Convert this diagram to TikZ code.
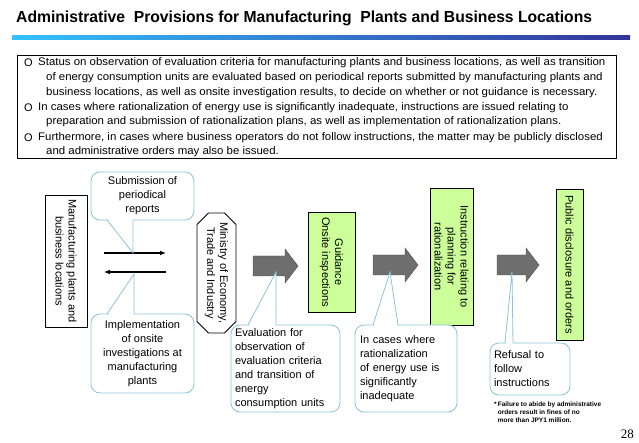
\documentclass[tikz,border=0pt]{standalone}
\usepackage{fontspec}
\setmainfont{Liberation Sans}
\usetikzlibrary{shapes.misc,arrows.meta}
\definecolor{callb}{RGB}{140,195,215}
\definecolor{lgreen}{RGB}{204,255,153}
\definecolor{garrow}{RGB}{110,110,110}
\newcommand{\tline}[1]{\scalebox{1.04}[1]{#1}}
\tikzset{
  x=1pt,y=-1pt,
  sidebox/.style={draw,thick,fill=white,minimum width=42pt,minimum height=132pt,inner sep=0pt},
  rot/.style={rotate=-90,align=center,font=\fontsize{11}{13}\selectfont},
  greenbox/.style={draw,thick,fill=lgreen,inner sep=0pt},
  callout/.style={draw=callb,thick,fill=white,rounded corners=9pt,align=center,font=\fontsize{11}{14}\selectfont,inner sep=0pt},
  calloutl/.style={callout,align=left},
  ptr/.style={draw=callb,thick},
  fatarrow/.style={draw=black!70,fill=garrow},
  txt/.style={anchor=west,font=\fontsize{11}{13}\selectfont,inner sep=0pt},
  thinarr/.style={very thick,-{Latex[length=6pt,width=5pt]}}
}
\begin{document}
\begin{tikzpicture}
\useasboundingbox (0,0) rectangle (639,443);
% title
\node[anchor=west,inner sep=0pt] (title) at (16,18) {\fontsize{16}{18}\selectfont\bfseries\scalebox{0.98}[1]{Administrative\ \ Provisions\ for\ Manufacturing\ \ Plants\ and\ Business\ Locations}};
\shade[left color=cyan!70!blue!80,right color=blue!50!black!80] (12,36) rectangle (630,40);
% text box
\draw[thick] (17,55) rectangle (616,158);
\node[txt] (b1) at (24,63) {O};
\node[txt] (l1) at (38,63) {\tline{Status on observation of evaluation criteria for manufacturing plants and business locations, as well as transition}};
\node[txt] (l2) at (46,78) {\tline{of energy consumption units are evaluated based on periodical reports submitted by manufacturing plants and}};
\node[txt] (l3) at (46,93) {\tline{business locations, as well as onsite investigation results, to decide on whether or not guidance is necessary.}};
\node[txt] (b2) at (24,108) {O};
\node[txt] (l4) at (38,108) {\tline{In cases where rationalization of energy use is significantly inadequate, instructions are issued relating to}};
\node[txt] (l5) at (46,122) {\tline{preparation and submission of rationalization plans, as well as implementation of rationalization plans.}};
\node[txt] (b3) at (24,138) {O};
\node[txt] (l6) at (38,138) {\tline{Furthermore, in cases where business operators do not follow instructions, the matter may be publicly disclosed}};
\node[txt] (l7) at (46,152) {\tline{and administrative orders may also be issued.}};
% left box
\node[sidebox] (mfg) at (66,261) {};
\node[rot] (mfgt) at (mfg.center) {Manufacturing plants and\\business locations};
% arrows between
\coordinate (ar1s) at (104,253); \coordinate (ar1e) at (166,253);
\coordinate (ar2s) at (166,272); \coordinate (ar2e) at (104,272);
\draw[thinarr] (ar1s) -- (ar1e);
\draw[thinarr] (ar2s) -- (ar2e);
% ministry
\node[draw,thick,chamfered rectangle,chamfered rectangle xsep=8pt,minimum width=120pt,minimum height=39pt,rotate=-90,inner sep=0pt,align=center,font=\fontsize{11}{13}\selectfont] (meti) at (216.5,273) {Ministry of Economy,\\Trade and Industry};
% green boxes
\node[greenbox,minimum width=47pt,minimum height=100pt] (guid) at (331.5,262) {};
\node[rot] at (guid.center) {Guidance\\Onsite inspections};
\node[greenbox,minimum width=43pt,minimum height=137pt] (instr) at (451.5,256.5) {};
\node[rot] at (instr.center) {Instruction relating to\\planning for\\rationalization};
\node[greenbox,minimum width=27pt,minimum height=151pt] (pub) at (569.5,264.5) {};
\node[rot] at (pub.center) {Public disclosure and orders};
% fat arrows
\draw[fatarrow] (253,256) -- (285,256) -- (285,249) -- (298,266) -- (285,283) -- (285,276) -- (253,276) -- cycle;
\draw[fatarrow] (373,255) -- (405,255) -- (405,248) -- (418,265) -- (405,282) -- (405,275) -- (373,275) -- cycle;
\draw[fatarrow] (497,255) -- (526,255) -- (526,248) -- (539,265) -- (526,282) -- (526,275) -- (497,275) -- cycle;
% callouts
\node[callout,minimum width=103pt,minimum height=48pt] (c1) at (142.5,196) {Submission of\\periodical\\reports};
\fill[white] (108,218.5) -- (133,253) -- (133,218.5) -- cycle;
\draw[ptr] (107,220) -- (133,253) -- (133,220);
\node[callout,minimum width=103pt,minimum height=79pt] (c2) at (142.5,353.5) {Implementation\\of onsite\\investigations at\\manufacturing\\plants};
\fill[white] (108,315.5) -- (134,274) -- (134,315.5) -- cycle;
\draw[ptr] (107,314) -- (134,274) -- (134,314);
\node[calloutl,minimum width=109pt,minimum height=87pt,text width=101pt] (c3) at (285.5,368.5) {Evaluation for\\observation of\\evaluation criteria\\and transition of\\energy\\consumption units};
\fill[white] (249,326.5) -- (276,272) -- (276,326.5) -- cycle;
\draw[ptr] (248,325) -- (276,272) -- (276,325);
\node[calloutl,minimum width=102pt,minimum height=87pt,text width=92pt] (c4) at (406,368.5) {In cases where\\rationalization\\of energy use is\\significantly\\inadequate};
\fill[white] (374,326.5) -- (390,272) -- (398,326.5) -- cycle;
\draw[ptr] (373,325) -- (390,272) -- (398,325);
\node[calloutl,minimum width=80pt,minimum height=52pt,text width=72pt] (c5) at (530,369) {Refusal to\\follow\\instructions};
\fill[white] (505.5,344.5) -- (512,272) -- (513,344.5) -- cycle;
\draw[ptr] (505,343) -- (512,272) -- (513,343);
% footnote
\node[anchor=north west,inner sep=0pt,align=left,font=\fontsize{6.5}{8}\selectfont\bfseries] (fn) at (494,402) {*\,Failure to abide by administrative\\\ \ orders result in fines of no\\\ \ more than JPY1 million.};
\node[anchor=east,inner sep=0pt,font=\fontspec{Liberation Serif}\fontsize{13}{13}\selectfont] (pg) at (634,434) {28};
\end{tikzpicture}
\end{document}
